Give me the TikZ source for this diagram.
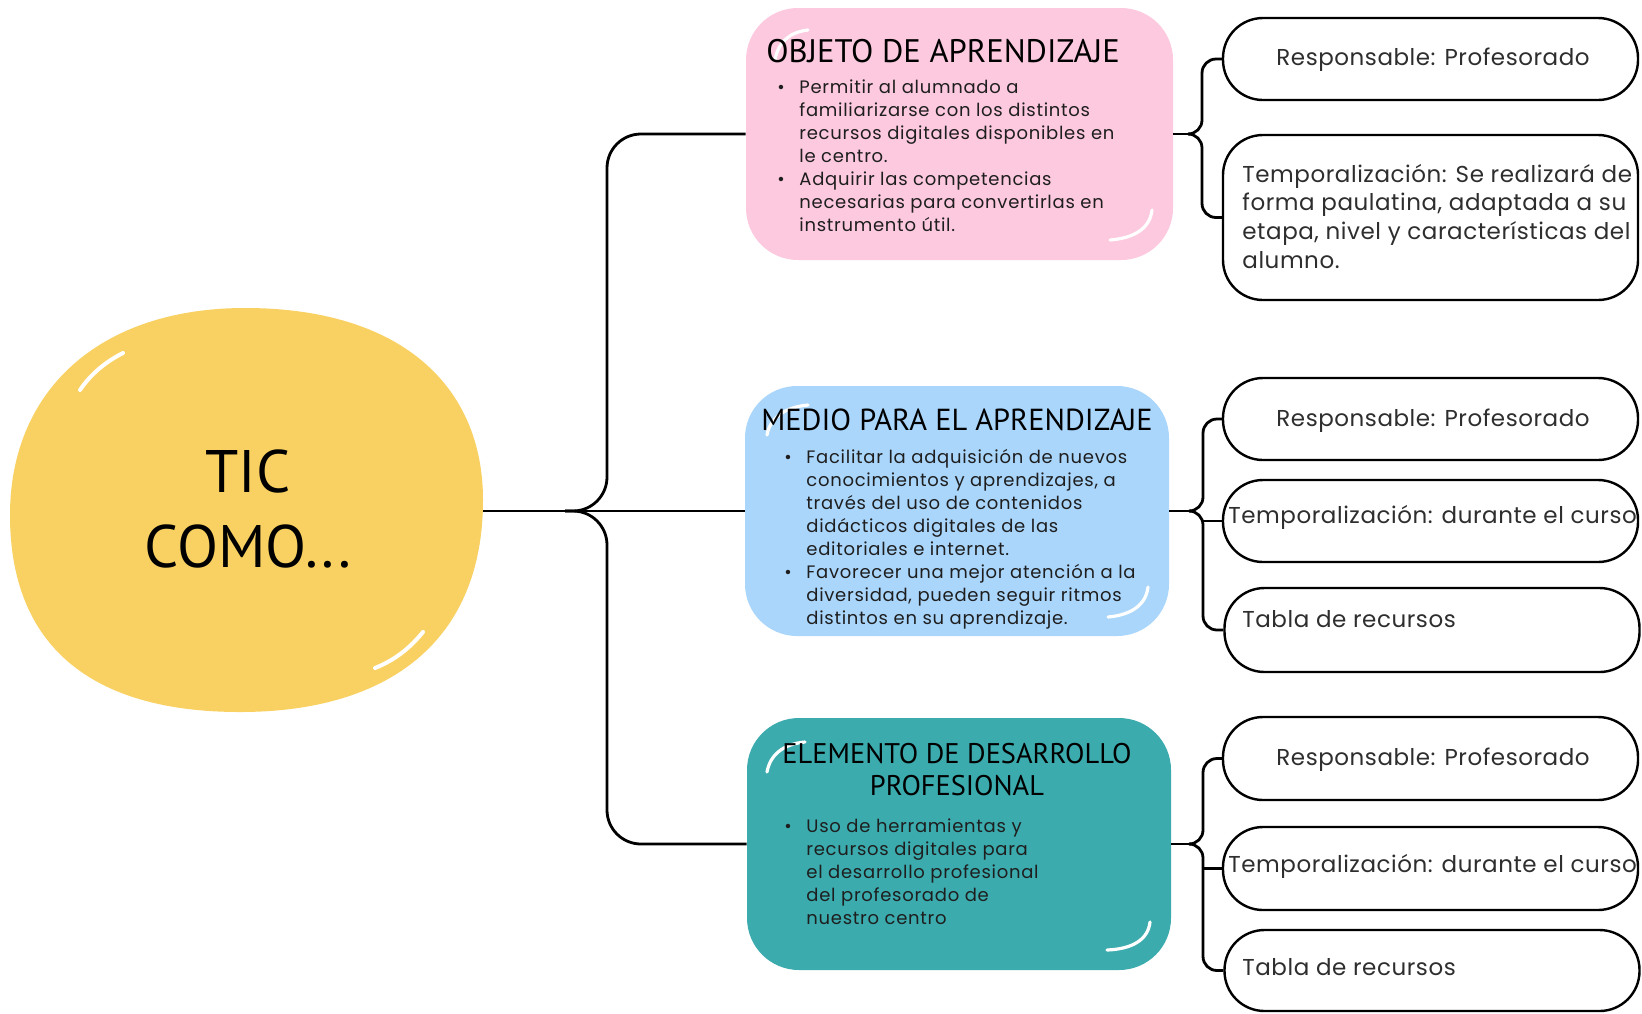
\documentclass[tikz,border=0pt]{standalone}
\usepackage{fontspec}
\setmainfont{Poppins}
\newfontfamily\titlefont{PT Sans}
\newfontfamily\bodyfont{Poppins}[LetterSpace=4]
\newfontfamily\sidefont{Poppins}[LetterSpace=2.4]
\usetikzlibrary{calc}
\definecolor{yel}{HTML}{F9D162}
\definecolor{pinkc}{HTML}{FDC9DF}
\definecolor{bluec}{HTML}{AAD6FC}
\definecolor{tealc}{HTML}{3BABAE}
\definecolor{txt}{HTML}{1E1E1E}
\definecolor{sidet}{HTML}{2E2E2E}
\tikzset{
  conn/.style={draw=black, line width=1.4pt},
  colbox/.style={rounded corners=26pt, inner sep=0pt, draw=none},
  sidebox/.style={draw=black, line width=1.2pt, rounded corners=20pt, minimum width=207.5pt, inner sep=0pt, fill=white},
  hl/.style={draw=white, line width=1.6pt, line cap=round},
  bodytxt/.style={font=\bodyfont\fontsize{9}{11.5}\selectfont, text=txt, inner sep=0pt, anchor=base west},
  sidetxt/.style={font=\sidefont\fontsize{11.5}{14.4}\selectfont, text=sidet, inner sep=0pt},
  ttl/.style={text=black, inner sep=0pt, anchor=base},
}
\newcommand\bul{\makebox[11pt][l]{\textbullet}}
\begin{document}
\begin{tikzpicture}[x=0.5pt,y=-0.5pt]
\useasboundingbox (0,0) rectangle (1642,1013);
\fill[white] (0,0) rectangle (1642,1013);

% central blob
\fill[yel] (245,308) .. controls (400,308) and (483,385) .. (483,500)
  .. controls (483,640) and (390,712) .. (240,712)
  .. controls (90,712) and (10,645) .. (10,515)
  .. controls (10,390) and (100,308) .. (245,308) -- cycle;
\draw[hl, line width=2pt] (80,390) .. controls (90,375) and (105,362) .. (123,353);
\draw[hl, line width=2pt] (423,632) .. controls (410,648) and (395,660) .. (375,668);
\node[minimum width=236.5pt, minimum height=202pt, inner sep=0pt] (tic) at (246.5,511) {};
\node[font=\titlefont\fontsize{30}{37.5}\selectfont, inner sep=0pt, anchor=base] (ticT) at (248,492)
  {\begin{tabular}[t]{@{}c@{}}TIC\\COMO...\end{tabular}};

% coloured boxes
\node[colbox, fill=pinkc, minimum width=213.5pt, minimum height=126pt] (pink) at (959.5,134) {};
\node[colbox, fill=bluec, minimum width=212pt, minimum height=125pt] (blue) at (957,511) {};
\node[colbox, fill=tealc, minimum width=212pt, minimum height=126pt] (teal) at (959,844) {};

\draw[hl] (775,60) .. controls (778,42) and (790,32) .. (808,30);
\draw[hl] (1152,210) .. controls (1150,228) and (1135,238) .. (1110,240);
\draw[hl] (767,435) .. controls (770,418) and (785,407) .. (808,405);
\draw[hl] (1148,587) .. controls (1146,605) and (1131,615) .. (1108,617);
\draw[hl] (767,772) .. controls (770,755) and (783,744) .. (805,742);
\draw[hl] (1150,922) .. controls (1148,940) and (1132,949) .. (1107,950);

\node[ttl, font=\titlefont\fontsize{16.3}{16}\selectfont] (pinkT) at (943,62) {OBJETO DE APRENDIZAJE};
\node[ttl, font=\titlefont\fontsize{15.2}{16}\selectfont] (blueT) at (957,430) {MEDIO PARA EL APRENDIZAJE};
\node[ttl, font=\titlefont\fontsize{14.2}{16}\selectfont] (tealT) at (957,763)
  {\begin{tabular}[t]{@{}c@{}}ELEMENTO DE DESARROLLO\\PROFESIONAL\end{tabular}};

\node[bodytxt] (pinkB) at (777,93) {\begin{tabular}[t]{@{}l@{}l@{}}
\bul & Permitir al alumnado a\\
 & familiarizarse con los distintos\\
 & recursos digitales disponibles en\\
 & le centro.\\
\bul & Adquirir las competencias\\
 & necesarias para convertirlas en\\
 & instrumento útil.
\end{tabular}};

\node[bodytxt] (blueB) at (784,463) {\begin{tabular}[t]{@{}l@{}l@{}}
\bul & Facilitar la adquisición de nuevos\\
 & conocimientos y aprendizajes, a\\
 & través del uso de contenidos\\
 & didácticos digitales de las\\
 & editoriales e internet.\\
\bul & Favorecer una mejor atención a la\\
 & diversidad, pueden seguir ritmos\\
 & distintos en su aprendizaje.
\end{tabular}};

\node[bodytxt] (tealB) at (784,832) {\begin{tabular}[t]{@{}l@{}l@{}}
\bul & Uso de herramientas y\\
 & recursos digitales para\\
 & el desarrollo profesional\\
 & del profesorado de\\
 & nuestro centro
\end{tabular}};

% side boxes
\node[sidebox, minimum height=41pt] (r11) at (1430.5,59) {};
\node[sidebox, minimum height=82.5pt] (r12) at (1430.5,217.5) {};
\node[sidebox, minimum height=41pt] (r21) at (1430.5,419) {};
\node[sidebox, minimum height=41pt] (r22) at (1430.5,521) {};
\node[sidebox, minimum height=42pt] (r23) at (1432,630) {};
\node[sidebox, minimum height=41.5pt] (r31) at (1430.5,758.5) {};
\node[sidebox, minimum height=41.5pt] (r32) at (1430.5,868.5) {};
\node[sidebox, minimum height=40.5pt] (r33) at (1432,970.5) {};

\node[sidetxt, anchor=base] (t11) at (1433,65) {Responsable: Profesorado};
\node[sidetxt, anchor=base west] (t12) at (1242,182) {\begin{tabular}[t]{@{}l@{}}
Temporalización: Se realizará de\\
forma paulatina, adaptada a su\\
etapa, nivel y características del\\
alumno.\end{tabular}};
\node[sidetxt, anchor=base] (t21) at (1433,426) {Responsable: Profesorado};
\node[sidetxt, anchor=base west] (t22) at (1228,523) {Temporalización: durante el curso};
\node[sidetxt, anchor=base west] (t23) at (1242,627) {Tabla de recursos};
\node[sidetxt, anchor=base] (t31) at (1433,765) {Responsable: Profesorado};
\node[sidetxt, anchor=base west] (t32) at (1228,872) {Temporalización: durante el curso};
\node[sidetxt, anchor=base west] (t33) at (1242,975) {Tabla de recursos};

% left connectors
\coordinate (lbr) at (565,511);
\coordinate (lsp) at (607,511);
\draw[conn] (tic.east) -- (tic.east -| blue.west);
\draw[conn, rounded corners=17pt] (lbr) -- (lsp) -- (lsp |- pink.west) -- (pink.west);
\draw[conn, rounded corners=17pt] (lbr) -- (lsp) -- (lsp |- teal.west) -- (teal.west);

% right connectors: pink
\coordinate (pp) at (1188,134);
\coordinate (ps) at (1202,134);
\draw[conn] (pink.east) -- (pp);
\draw[conn, rounded corners=7pt] (pp) -- (ps) -- (ps |- r11.west) -- (r11.west);
\draw[conn, rounded corners=7pt] (pp) -- (ps) -- (ps |- r12.west) -- (r12.west);

% right connectors: blue
\coordinate (bp) at (1191,511);
\coordinate (bs) at (1203,511);
\draw[conn] (blue.east) -- (bp);
\draw[conn, rounded corners=7pt] (bp) -- (bs) -- (bs |- r21.west) -- (r21.west);
\draw[conn, rounded corners=7pt] (bp) -- (bs) -- (bs |- r23.west) -- (r23.west);
\draw[conn] (bs |- r22.west) -- (r22.west);

% right connectors: teal
\coordinate (tp) at (1191,844);
\coordinate (ts) at (1203,844);
\draw[conn] (teal.east) -- (tp);
\draw[conn, rounded corners=7pt] (tp) -- (ts) -- (ts |- r31.west) -- (r31.west);
\draw[conn, rounded corners=7pt] (tp) -- (ts) -- (ts |- r33.west) -- (r33.west);
\draw[conn] (ts |- r32.west) -- (r32.west);
\end{tikzpicture}
\end{document}
